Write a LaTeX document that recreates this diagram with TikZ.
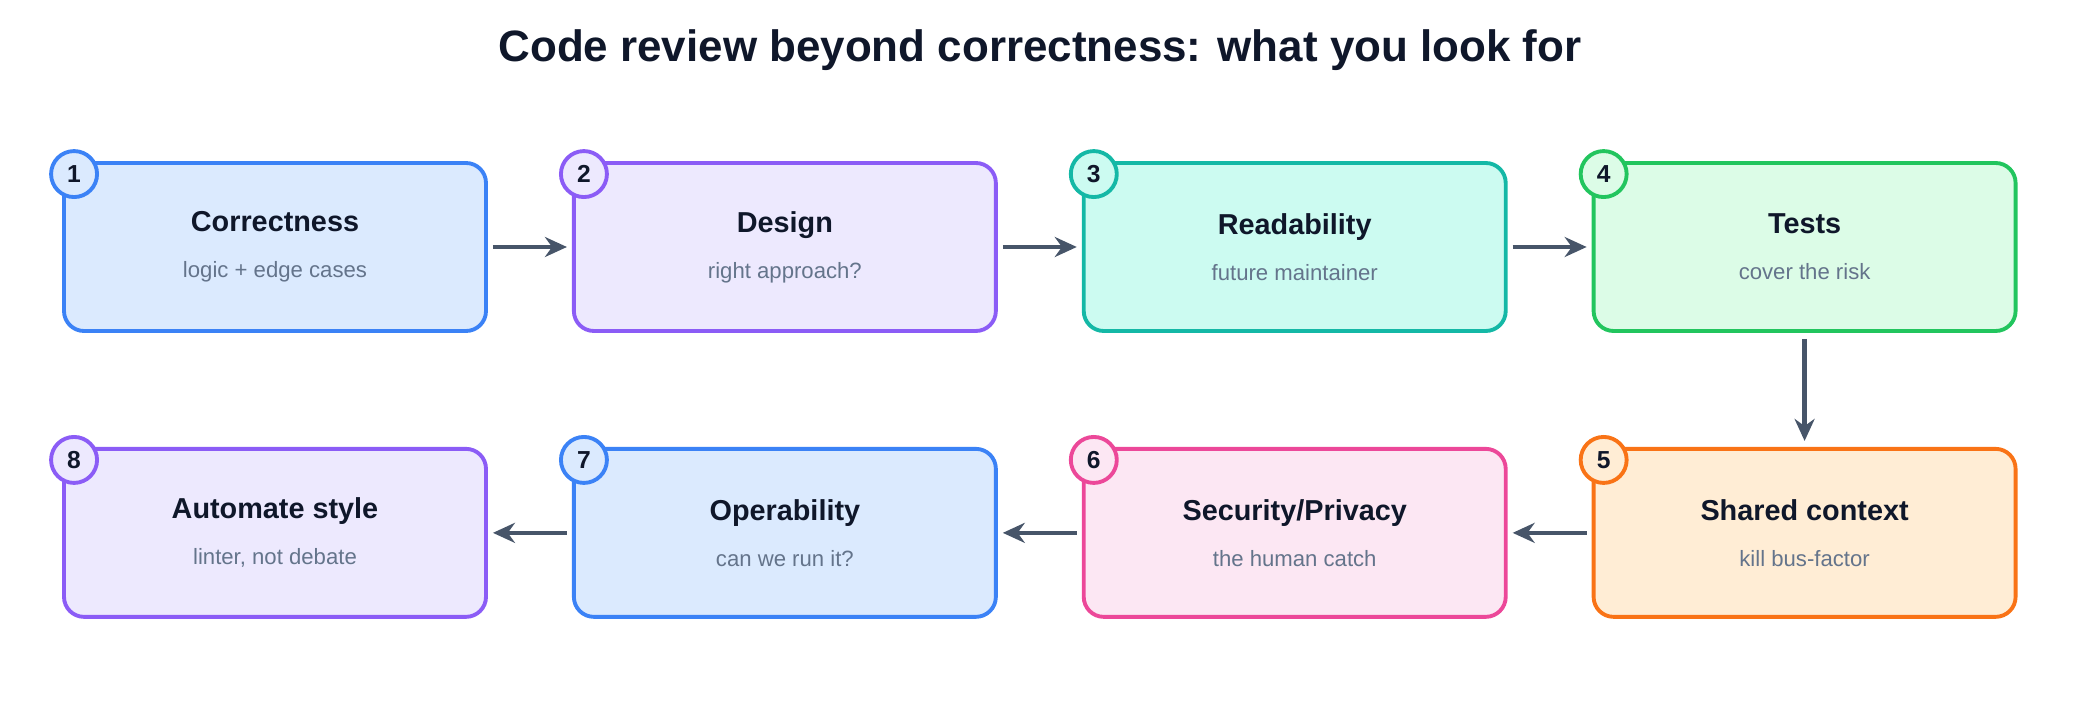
\documentclass[tikz,border=0pt]{standalone}
\usepackage{fontspec}
\setmainfont{Liberation Sans}
\usetikzlibrary{positioning,arrows.meta}

\definecolor{cblue}{HTML}{3B82F6}\definecolor{fblue}{HTML}{DBEAFE}
\definecolor{cpurple}{HTML}{8B5CF6}\definecolor{fpurple}{HTML}{EDE9FE}
\definecolor{cteal}{HTML}{14B8A6}\definecolor{fteal}{HTML}{CCFBF1}
\definecolor{cgreen}{HTML}{22C55E}\definecolor{fgreen}{HTML}{DCFCE7}
\definecolor{corange}{HTML}{F97316}\definecolor{forange}{HTML}{FFEDD5}
\definecolor{cpink}{HTML}{EC4899}\definecolor{fpink}{HTML}{FCE7F3}
\definecolor{carrow}{HTML}{475569}
\definecolor{ctitle}{HTML}{0F172A}
\definecolor{csub}{HTML}{64748B}

\tikzset{
  step/.style={draw=c#1, fill=f#1, line width=1.1pt, rounded corners=0.2cm,
    minimum width=4.22cm, minimum height=1.68cm, align=center},
  badge/.style={circle, draw=c#1, fill=f#1, line width=1.1pt, minimum size=0.46cm,
    inner sep=0pt, font=\fontsize{7}{8}\selectfont\bfseries, text=ctitle},
  flow/.style={-{Stealth[length=0.22cm,width=0.2cm]}, draw=carrow, line width=1.3pt},
}
\newcommand{\steptext}[2]{{\fontsize{8.2}{10}\selectfont\bfseries\color{ctitle}#1}\\[0.04cm]{\fontsize{6.3}{8}\selectfont\color{csub}#2}}

\begin{document}
\begin{tikzpicture}
  \useasboundingbox (0,0) rectangle (20.8,7.04);
  \node[font=\fontsize{12.5}{15}\selectfont\bfseries, text=ctitle] (title) at (10.4,6.54)
    {Code review beyond correctness: what you look for};
  %
  \node[step=blue]   (b1) at (2.75,4.57) {\steptext{Correctness}{logic + edge cases}};
  \node[step=purple, right=0.84cm of b1] (b2) {\steptext{Design}{right approach?}};
  \node[step=teal,   right=0.84cm of b2] (b3) {\steptext{Readability}{future maintainer}};
  \node[step=green,  right=0.84cm of b3] (b4) {\steptext{Tests}{cover the risk}};
  \node[step=orange, below=1.14cm of b4] (b5) {\steptext{Shared context}{kill bus-factor}};
  \node[step=pink,   left=0.84cm of b5]  (b6) {\steptext{Security/Privacy}{the human catch}};
  \node[step=blue,   left=0.84cm of b6]  (b7) {\steptext{Operability}{can we run it?}};
  \node[step=purple, left=0.84cm of b7]  (b8) {\steptext{Automate style}{linter, not debate}};
  %
  \foreach \i/\c in {1/blue,2/purple,3/teal,4/green,5/orange,6/pink,7/blue,8/purple}
    \node[badge=\c] (n\i) at ([xshift=0.12cm,yshift=-0.13cm]b\i.north west) {\i};
  %
  \draw[flow] ([xshift=0.05cm]b1.east) -- ([xshift=-0.05cm]b2.west);
  \draw[flow] ([xshift=0.05cm]b2.east) -- ([xshift=-0.05cm]b3.west);
  \draw[flow] ([xshift=0.05cm]b3.east) -- ([xshift=-0.05cm]b4.west);
  \draw[flow] ([yshift=-0.06cm]b4.south) -- ([yshift=0.06cm]b5.north);
  \draw[flow] ([xshift=-0.05cm]b5.west) -- ([xshift=0.05cm]b6.east);
  \draw[flow] ([xshift=-0.05cm]b6.west) -- ([xshift=0.05cm]b7.east);
  \draw[flow] ([xshift=-0.05cm]b7.west) -- ([xshift=0.05cm]b8.east);
\end{tikzpicture}
\end{document}
